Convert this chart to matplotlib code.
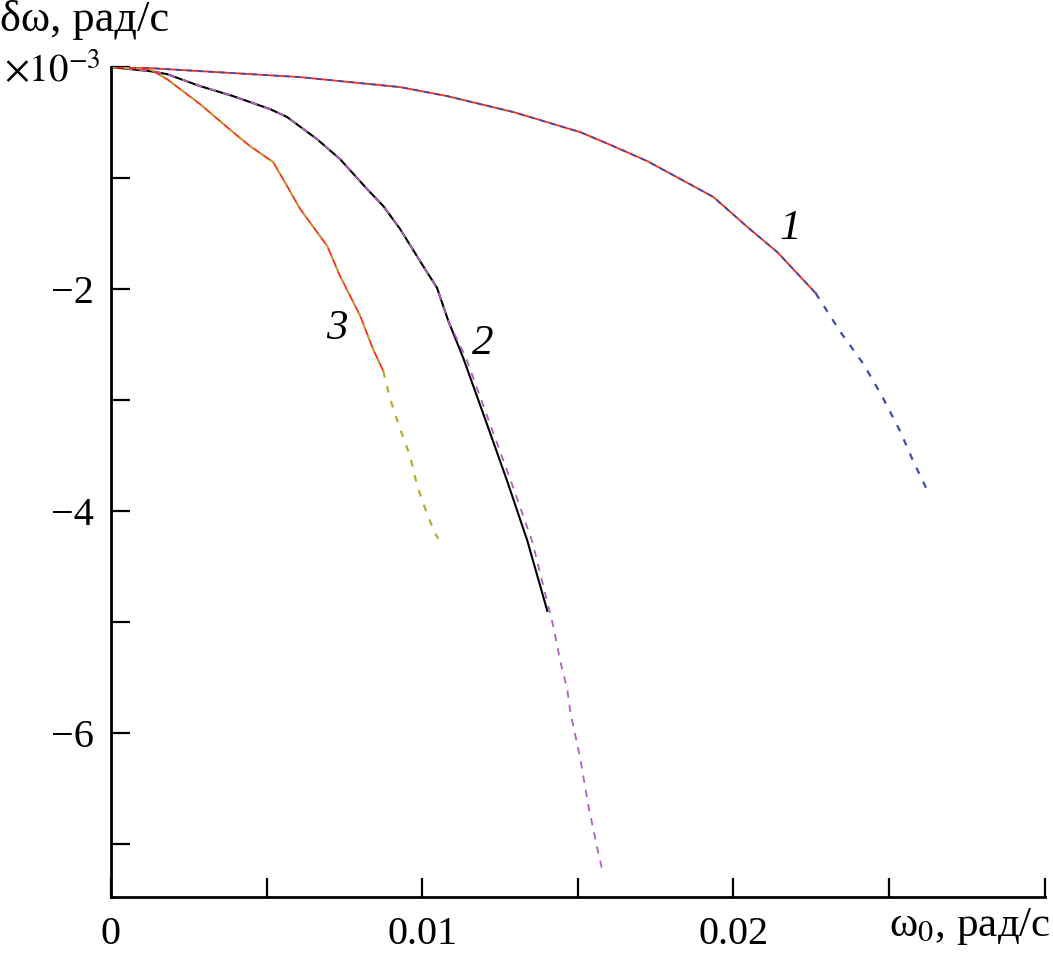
import matplotlib
matplotlib.use("Agg")
import matplotlib.pyplot as plt
from matplotlib.ticker import MultipleLocator

plt.rcParams['font.family'] = ['Liberation Serif', 'DejaVu Serif']
plt.rcParams['mathtext.fontset'] = 'stix'

# curve 1 (solid red part + blue dashed overlay that goes further)
x1_solid = [0, 0.00125, 0.00286, 0.00447, 0.00608, 0.00768, 0.00929, 0.01080, 0.01293,
            0.01508, 0.01614, 0.01723, 0.01830, 0.01936, 0.02045, 0.02141, 0.02264]
y1_solid = [0, -0.009, -0.036, -0.063, -0.090, -0.135, -0.180, -0.261, -0.405,
            -0.586, -0.712, -0.847, -1.009, -1.171, -1.441, -1.667, -2.036]
x1_ext = [0.02264, 0.02344, 0.02418, 0.02479, 0.02537, 0.02579, 0.02624]
y1_ext = [-2.036, -2.387, -2.676, -2.973, -3.288, -3.559, -3.820]

# curve 2 (black solid + purple dashed)
x2_solid = [0, 0.00125, 0.00180, 0.00286, 0.00392, 0.00511, 0.00566, 0.00662, 0.00736,
            0.00823, 0.00875, 0.00929, 0.01003, 0.01048, 0.01084, 0.01132, 0.01209,
            0.01273, 0.01338, 0.01402]
y2_solid = [0, -0.036, -0.063, -0.171, -0.261, -0.378, -0.450, -0.649, -0.829,
            -1.099, -1.252, -1.459, -1.793, -1.991, -2.288, -2.622, -3.225,
            -3.730, -4.270, -4.901]
x2_dash = [0, 0.00125, 0.00180, 0.00286, 0.00392, 0.00511, 0.00566, 0.00662, 0.00736,
           0.00823, 0.00875, 0.00929, 0.01003, 0.01048, 0.01084, 0.01141, 0.01219,
           0.01286, 0.01354, 0.01421, 0.01444, 0.01466, 0.01476, 0.01508, 0.01534,
           0.01563, 0.01579]
y2_dash = [0, -0.036, -0.063, -0.171, -0.261, -0.378, -0.450, -0.649, -0.829,
           -1.099, -1.252, -1.459, -1.793, -1.991, -2.288, -2.622, -3.225,
           -3.739, -4.279, -5.036, -5.360, -5.604, -5.811, -6.234, -6.658,
           -7.045, -7.243]

# curve 3 (red solid + olive dashed)
x3_solid = [0, 0.00125, 0.00180, 0.00286, 0.00392, 0.00447, 0.00521, 0.00553, 0.00608,
            0.00695, 0.00736, 0.00801, 0.00842, 0.00875]
y3_solid = [0, -0.018, -0.108, -0.333, -0.586, -0.712, -0.856, -1.009, -1.279,
            -1.613, -1.883, -2.243, -2.541, -2.739]
x3_ext = [0.00875, 0.00897, 0.00929, 0.00961, 0.00984, 0.01010, 0.01035, 0.01051]
y3_ext = [-2.739, -2.991, -3.261, -3.505, -3.775, -3.982, -4.162, -4.252]

red = '#ff2a1a'
blue = '#3a4db0'
purple = '#b060c0'
olive = '#b5ad30'

fig = plt.figure(figsize=(10.53, 9.59), dpi=100)
ax = fig.add_axes([0.1054, 0.0647, 0.8866, 0.8653])

lw = 1.3
# curve 1
ax.plot(x1_solid, y1_solid, color=red, lw=lw)
ax.plot(x1_solid, y1_solid, color=blue, lw=lw, dashes=(3, 3))
ax.plot(x1_ext, y1_ext, color=blue, lw=lw + 0.3, dashes=(3, 4))
# curve 2
ax.plot(x2_solid, y2_solid, color='black', lw=lw + 0.2)
ax.plot(x2_dash, y2_dash, color=purple, lw=lw, dashes=(4, 4))
# curve 3
ax.plot(x3_solid, y3_solid, color=red, lw=lw)
ax.plot(x3_solid, y3_solid, color=olive, lw=lw, dashes=(3, 4))
ax.plot(x3_ext, y3_ext, color=olive, lw=lw + 0.3, dashes=(3, 4))

ax.set_xlim(0, 0.0300)
ax.set_ylim(-7.48, 0)

for s in ['top', 'right']:
    ax.spines[s].set_visible(False)
for s in ['left', 'bottom']:
    ax.spines[s].set_linewidth(2)

ax.xaxis.set_major_locator(MultipleLocator(0.005))
ax.yaxis.set_major_locator(MultipleLocator(1))
ax.xaxis.set_major_formatter(plt.FuncFormatter(
    lambda v, p: {0: '0', 2: '0.01', 4: '0.02'}.get(int(round(v / 0.005)), '')))
ax.yaxis.set_major_formatter(plt.FuncFormatter(
    lambda v, p: ('\u2212' + str(int(round(-v)))) if (int(round(v)) % 2 == 0 and round(v) != 0) else ''))
ax.tick_params(direction='in', length=14, width=1.6, labelsize=29, pad=12)
ax.tick_params(axis='x', pad=14)

# curve numbers
ax.text(0.02183, -1.459, '1', fontsize=31, style='italic', ha='center', va='center')
ax.text(0.01196, -2.495, '2', fontsize=31, style='italic', ha='center', va='center')
ax.text(0.00727, -2.36, '3', fontsize=31, style='italic', ha='center', va='center')

# axis labels
fig.text(0.0, 1.0, 'δω, рад/с', fontsize=32, ha='left', va='top')
fig.text(0.004, 0.925, r'$\times10^{-3}$', fontsize=28, ha='left', va='center')
fig.text(0.998, 0.012, 'ω$_0$, рад/с', fontsize=31, ha='right', va='bottom')

fig.savefig('out.png', dpi=100)
